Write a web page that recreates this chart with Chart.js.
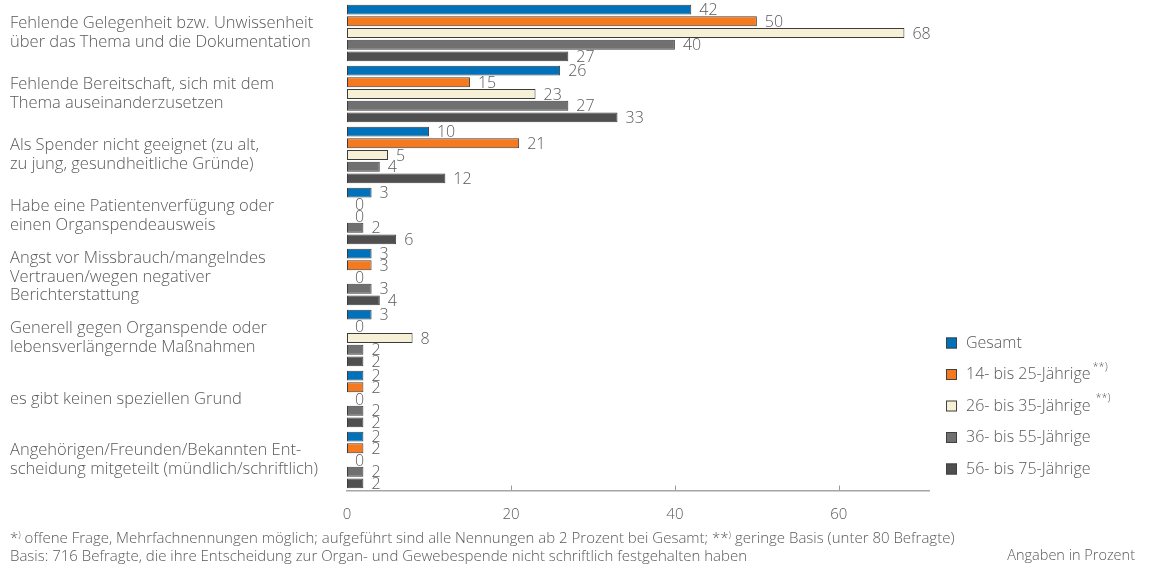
<!DOCTYPE html>
<html>
<head>
<meta charset="utf-8">
<script src="https://cdn.jsdelivr.net/npm/chart.js@4.4.1/dist/chart.umd.min.js"></script>
<style>
    html, body { margin: 0; padding: 0; background: #fff; }
    body {
        font-family: "Open Sans", "Noto Sans", sans-serif;
        font-weight: 300;
        color: #595959;
        width: 1150px;
        height: 566px;
        overflow: hidden;
        position: relative;
    }
    #chartBox { position: absolute; left: 0; top: 0; width: 1150px; height: 566px; }
    .note { position: absolute; font-size: 15px; white-space: nowrap; line-height: 18px; }
    .note sup { font-size: 9px; vertical-align: 5px; line-height: 0; }
</style>
</head>
<body>
<div id="chartBox"><canvas id="reasons"></canvas></div>
<div class="note" style="left:10px; top:528px;">*<sup>)</sup> offene Frage, Mehrfachnennungen möglich; aufgeführt sind alle Nennungen ab 2 Prozent bei Gesamt; **<sup>)</sup> geringe Basis (unter 80 Befragte)</div>
<div class="note" style="left:10px; top:546px;">Basis: 716 Befragte, die ihre Entscheidung zur Organ- und Gewebespende nicht schriftlich festgehalten haben</div>
<div class="note" style="right:15px; top:546px; font-size:14.5px;">Angaben in Prozent</div>
<script>
// categories (each entry = lines of the label)
const categories = [
    ["Fehlende Gelegenheit bzw. Unwissenheit", "über das Thema und die Dokumentation"],
    ["Fehlende Bereitschaft, sich mit dem", "Thema auseinanderzusetzen"],
    ["Als Spender nicht geeignet (zu alt,", "zu jung, gesundheitliche Gründe)"],
    ["Habe eine Patientenverfügung oder", "einen Organspendeausweis"],
    ["Angst vor Missbrauch/mangelndes", "Vertrauen/wegen negativer", "Berichterstattung"],
    ["Generell gegen Organspende oder", "lebensverlängernde Maßnahmen"],
    ["es gibt keinen speziellen Grund"],
    ["Angehörigen/Freunden/Bekannten Ent-", "scheidung mitgeteilt (mündlich/schriftlich)"]
];

const seriesNames = ["Gesamt", "14- bis 25-Jährige", "26- bis 35-Jährige", "36- bis 55-Jährige", "56- bis 75-Jährige"];
const seriesNotes = ["", "**)", " **)", "", ""];

const gesamt   = [42, 26, 10, 3, 3, 3, 2, 2];
const age14_25 = [50, 15, 21, 0, 3, 0, 2, 2];
const age26_35 = [68, 23, 5, 0, 0, 8, 0, 0];
const age36_55 = [40, 27, 4, 2, 3, 2, 2, 2];
const age56_75 = [27, 33, 12, 6, 4, 2, 2, 2];

const xTicks = [0, 20, 40, 60];

const colors = ["#0072bc", "#f57a1f", "#f5f0d6", "#707070", "#4f4f4f"];
const textColor = "#595959";
const fontFamily = '"Open Sans", "Noto Sans", sans-serif';

// value labels right of each bar
const valueLabels = {
    id: "valueLabels",
    afterDatasetsDraw(chart) {
        const ctx = chart.ctx;
        ctx.save();
        ctx.font = "300 16px " + fontFamily;
        ctx.fillStyle = textColor;
        ctx.textAlign = "left";
        ctx.textBaseline = "middle";
        chart.data.datasets.forEach((ds, i) => {
            chart.getDatasetMeta(i).data.forEach((bar, j) => {
                ctx.fillText(String(ds.data[j]), bar.x + 8, bar.y + 1);
            });
        });
        ctx.restore();
    }
};

// small tick marks above the x axis line
const axisTicks = {
    id: "axisTicks",
    afterDraw(chart) {
        const s = chart.scales.x;
        const ctx = chart.ctx;
        ctx.save();
        ctx.strokeStyle = "#9a9a9a";
        ctx.lineWidth = 1;
        xTicks.forEach(v => {
            if (v === 0) return;
            const x = Math.round(s.getPixelForValue(v)) + 0.5;
            ctx.beginPath();
            ctx.moveTo(x, s.top - 5);
            ctx.lineTo(x, s.top);
            ctx.stroke();
        });
        ctx.restore();
    }
};

// legend at the lower right
const sideLegend = {
    id: "sideLegend",
    afterDraw(chart) {
        const ctx = chart.ctx;
        ctx.save();
        chart.data.datasets.forEach((ds, i) => {
            const y = 343 + i * 31.5;
            ctx.fillStyle = ds.backgroundColor;
            ctx.fillRect(946, y - 5.5, 11, 11);
            ctx.strokeStyle = "#404040";
            ctx.lineWidth = 1;
            ctx.strokeRect(946.5, y - 5, 10, 10);
            ctx.fillStyle = textColor;
            ctx.font = "300 16px " + fontFamily;
            ctx.textBaseline = "middle";
            ctx.fillText(seriesNames[i], 966, y);
            if (seriesNotes[i]) {
                const w = ctx.measureText(seriesNames[i]).width;
                ctx.font = "300 11px " + fontFamily;
                ctx.fillText(seriesNotes[i], 966 + w + 2, y - 8);
            }
        });
        ctx.restore();
    }
};

const series = [gesamt, age14_25, age26_35, age36_55, age56_75];

new Chart(document.getElementById("reasons"), {
    type: "bar",
    data: {
        labels: categories,
        datasets: series.map((d, i) => ({
            label: seriesNames[i],
            data: d,
            backgroundColor: colors[i],
            borderColor: "#3c3c3c",
            borderWidth: c => (c.raw === 0 ? 0 : 1),
            borderSkipped: false,
            categoryPercentage: 0.96,
            barPercentage: 0.84
        }))
    },
    options: {
        indexAxis: "y",
        responsive: true,
        maintainAspectRatio: false,
        animation: false,
        layout: { padding: { left: 10, right: 221, top: 2.5, bottom: 35.5 } },
        scales: {
            x: {
                min: 0,
                max: 71,
                afterBuildTicks: s => { s.ticks = xTicks.map(v => ({ value: v })); },
                afterFit: s => { s.height = 40; s.paddingLeft = 0; s.paddingRight = 0; },
                grid: { display: false, drawTicks: false, tickLength: 0 },
                border: { display: true, color: "#a6a6a6", width: 1.5 },
                ticks: {
                    padding: 15,
                    color: textColor,
                    font: { family: fontFamily, size: 15, weight: 300 },
                    maxRotation: 0
                }
            },
            y: {
                afterFit: s => { s.width = 337; s.paddingTop = 0; s.paddingBottom = 0; },
                grid: { display: false, drawTicks: false },
                border: { display: false },
                ticks: {
                    autoSkip: false,
                    crossAlign: "far",
                    color: textColor,
                    font: { family: fontFamily, size: 16.5, weight: 300, lineHeight: 1.12 }
                }
            }
        },
        plugins: {
            legend: { display: false },
            tooltip: { enabled: false }
        }
    },
    plugins: [valueLabels, axisTicks, sideLegend]
});
</script>
</body>
</html>
